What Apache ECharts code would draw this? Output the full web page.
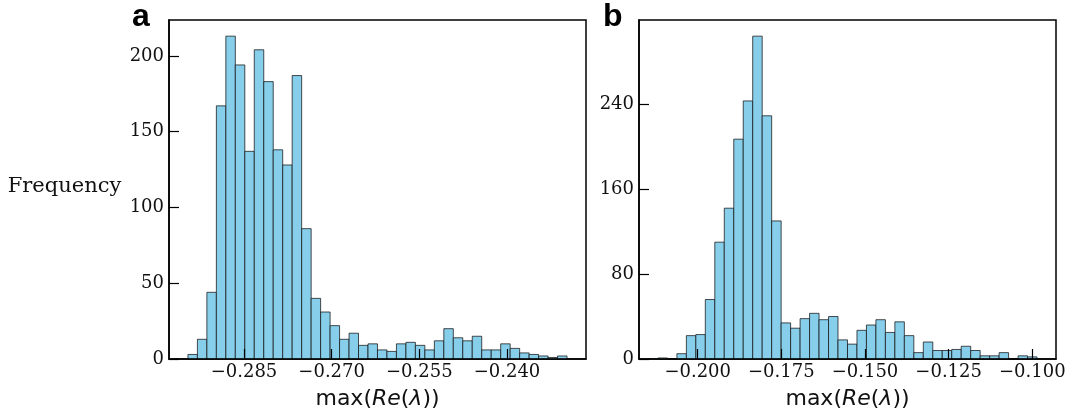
<!DOCTYPE html>
<html>
<head>
<meta charset="utf-8">
<script src="https://cdn.jsdelivr.net/npm/echarts@6/dist/echarts.min.js"></script>
<style>
html,body{margin:0;padding:0;background:#fff;}
#chart{width:1068px;height:412px;}
</style>
</head>
<body>
<div id="chart"></div>
<script>
// ---- data ----
const countsA = [3,13,44,167,213,194,137,204,183,138,128,187,86,40,31,22,13,17,9,10,6,5,10,11,9,6,12,20,14,12,15,6,6,10,7,4,3,2,1,2];
const binStartA = -0.29459;
const binWidthA = 0.0016216;
const xTicksA = [-0.285, -0.270, -0.255, -0.240];
const yTicksA = [0, 50, 100, 150, 200];

const countsB = [1,0,5,22,23,56,110,142,207,243,304,229,130,34,29,38,43,37,40,18,14,27,32,37,25,35,22,6,16,8,8,9,12,8,3,3,6,0,3,2];
const binStartB = -0.21188;
const binWidthB = 0.0028323;
const xTicksB = [-0.200, -0.175, -0.150, -0.125, -0.100];
const yTicksB = [0, 80, 160, 240];

const yLabel = 'Frequency';

// ---- build ----
function bins(counts, start, w) {
  return counts.map((c, i) => [start + i * w, start + (i + 1) * w, c]);
}
const serif = 'DejaVu Serif';
const sans = 'DejaVu Sans';

function renderBar(params, api) {
  const p0 = api.coord([api.value(0), api.value(2)]);
  const p1 = api.coord([api.value(1), 0]);
  return {
    type: 'rect',
    shape: {x: p0[0], y: p0[1], width: p1[0] - p0[0], height: p1[1] - p0[1]},
    style: {fill: '#87CEEB', stroke: 'rgba(20,20,20,0.75)', lineWidth: 1}
  };
}

function xAxis(idx, min, max, ticks) {
  return {
    type: 'value', gridIndex: idx, min: min, max: max, z: 10,
    splitLine: {show: false},
    axisLine: {show: true, onZero: false, lineStyle: {color: '#000', width: 1.5}},
    axisTick: {show: true, inside: true, length: 10, customValues: ticks, lineStyle: {color: '#000', width: 1.2}},
    axisLabel: {
      customValues: ticks, margin: 4, fontFamily: serif, fontSize: 18, color: '#111',
      formatter: v => (v < 0 ? '\u2212' : '') + Math.abs(v).toFixed(3)
    },
    name: '{n|max(}{i|Re}{n|(}{i|λ}{n|))}',
    nameLocation: 'middle', nameGap: 29,
    nameTextStyle: {
      rich: {
        n: {fontFamily: sans, fontSize: 22, color: '#111'},
        i: {fontFamily: sans, fontStyle: 'italic', fontSize: 22, color: '#111'}
      }
    }
  };
}
function yAxis(idx, max, ticks) {
  return {
    type: 'value', gridIndex: idx, min: 0, max: max, z: 10,
    splitLine: {show: false},
    axisLine: {show: true, lineStyle: {color: '#000', width: 1.5}},
    axisTick: {show: true, inside: true, length: 10, customValues: ticks, lineStyle: {color: '#000', width: 1.2}},
    axisLabel: {customValues: ticks, margin: 5, fontFamily: serif, fontSize: 18, color: '#111'}
  };
}

const gridBase = {top: 20, width: 417, height: 339, show: true, borderColor: '#000', borderWidth: 1.5,
  backgroundColor: 'transparent', containLabel: false, outerBoundsMode: 'none'};

const chart = echarts.init(document.getElementById('chart'), null, {renderer: 'canvas'});
chart.setOption({
  animation: false,
  backgroundColor: '#fff',
  grid: [
    Object.assign({left: 169}, gridBase),
    Object.assign({left: 639}, gridBase)
  ],
  xAxis: [
    xAxis(0, -0.29783, -0.22648, xTicksA),
    xAxis(1, -0.21754, -0.09292, xTicksB)
  ],
  yAxis: [
    yAxis(0, 223.65, yTicksA),
    yAxis(1, 319.2, yTicksB)
  ],
  series: [
    {type: 'custom', xAxisIndex: 0, yAxisIndex: 0, renderItem: renderBar, encode: {x: [0, 1], y: 2}, data: bins(countsA, binStartA, binWidthA)},
    {type: 'custom', xAxisIndex: 1, yAxisIndex: 1, renderItem: renderBar, encode: {x: [0, 1], y: 2}, data: bins(countsB, binStartB, binWidthB)}
  ],
  graphic: [
    {type: 'text', left: 132, top: 1, style: {text: 'a', font: 'bold 32px "Liberation Sans", Arial, sans-serif', fill: '#000'}},
    {type: 'text', left: 603, top: 1, style: {text: 'b', font: 'bold 32px "Liberation Sans", Arial, sans-serif', fill: '#000'}},
    {type: 'text', x: 64.5, y: 187, style: {text: yLabel, font: '21px "DejaVu Serif"', fill: '#111', align: 'center', verticalAlign: 'middle'}}
  ]
});
</script>
</body>
</html>
